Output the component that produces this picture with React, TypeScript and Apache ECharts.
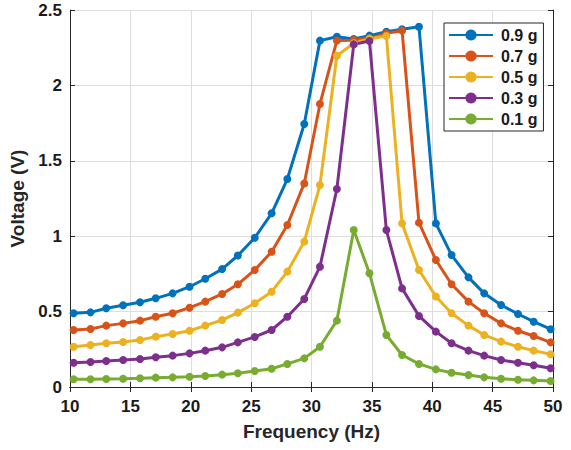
import React, { useEffect, useRef } from "react";
import * as echarts from "echarts";

const freq = [10.3, 11.7, 13.0, 14.4, 15.8, 17.1, 18.5, 19.9, 21.2, 22.6, 23.9, 25.3, 26.7, 28.0, 29.4, 30.7, 32.1, 33.5, 34.8, 36.2, 37.5, 38.9, 40.3, 41.6, 43.0, 44.3, 45.7, 47.1, 48.4, 49.8];

const g09 = [0.489, 0.495, 0.522, 0.542, 0.562, 0.588, 0.621, 0.665, 0.718, 0.782, 0.872, 0.99, 1.152, 1.379, 1.744, 2.297, 2.323, 2.308, 2.33, 2.356, 2.372, 2.389, 1.085, 0.875, 0.727, 0.621, 0.544, 0.484, 0.433, 0.383];
const g07 = [0.378, 0.385, 0.407, 0.422, 0.44, 0.466, 0.489, 0.526, 0.566, 0.617, 0.681, 0.776, 0.897, 1.074, 1.35, 1.877, 2.297, 2.3, 2.312, 2.345, 2.363, 1.09, 0.842, 0.681, 0.566, 0.489, 0.422, 0.373, 0.338, 0.296];
const g05 = [0.267, 0.279, 0.29, 0.298, 0.312, 0.334, 0.351, 0.373, 0.407, 0.444, 0.493, 0.555, 0.632, 0.765, 0.964, 1.339, 2.197, 2.28, 2.31, 2.328, 1.085, 0.776, 0.6, 0.489, 0.407, 0.345, 0.301, 0.267, 0.241, 0.217];
const g03 = [0.161, 0.166, 0.172, 0.179, 0.186, 0.197, 0.208, 0.223, 0.241, 0.263, 0.296, 0.332, 0.378, 0.466, 0.584, 0.798, 1.313, 2.272, 2.294, 1.041, 0.654, 0.471, 0.367, 0.29, 0.241, 0.208, 0.179, 0.161, 0.144, 0.124];
const g01 = [0.051, 0.051, 0.053, 0.055, 0.058, 0.062, 0.064, 0.068, 0.073, 0.082, 0.091, 0.106, 0.121, 0.153, 0.19, 0.267, 0.44, 1.041, 0.754, 0.345, 0.212, 0.153, 0.117, 0.095, 0.08, 0.064, 0.055, 0.048, 0.044, 0.04];

const seriesNames = ["0.9 g", "0.7 g", "0.5 g", "0.3 g", "0.1 g"];
const seriesValues = [g09, g07, g05, g03, g01];
const colors = ["#0072BD", "#D95319", "#EDB120", "#7E2F8E", "#77AC30"];

const xTicks = { min: 10, max: 50, interval: 5 };
const yTicks = { min: 0, max: 2.5, interval: 0.5 };

const FONT = "'Liberation Sans', Arial, sans-serif";

export default function App() {
  const ref = useRef<HTMLDivElement>(null);
  useEffect(() => {
    document.body.style.margin = "0";
    const chart = echarts.init(ref.current!, undefined, { renderer: "svg" });
    const axisLine = { show: true, lineStyle: { color: "#262626", width: 1 } };
    const tick = { show: true, inside: true, length: 5, lineStyle: { color: "#262626" } };
    const label = { color: "#1a1a1a", fontSize: 17, fontWeight: "bold" as const, fontFamily: FONT };
    const nameStyle = { color: "#262626", fontSize: 19, fontWeight: "bold" as const, fontFamily: FONT };
    chart.setOption({
      animation: false,
      backgroundColor: "#ffffff",
      grid: { left: 70, right: 18, top: 10, bottom: 63, containLabel: false },
      legend: {
        orient: "vertical",
        left: 444,
        top: 23,
        padding: [4, 6, 4, 4],
        itemWidth: 44,
        itemHeight: 14,
        itemGap: 5,
        backgroundColor: "#ffffff",
        borderColor: "#262626",
        borderWidth: 1,
        borderRadius: 0,
        textStyle: { color: "#1a1a1a", fontSize: 16, fontWeight: "bold", fontFamily: FONT, padding: [0, 0, 0, 3] },
        data: seriesNames,
      },
      xAxis: [
        {
          type: "value",
          min: xTicks.min,
          max: xTicks.max,
          interval: xTicks.interval,
          name: "Frequency (Hz)",
          nameLocation: "middle",
          nameGap: 35,
          nameTextStyle: nameStyle,
          axisLine,
          axisTick: tick,
          axisLabel: { ...label, margin: 11 },
          splitLine: { show: true, lineStyle: { color: "#dedede", width: 1 } },
        },
        {
          type: "value",
          position: "top",
          min: xTicks.min,
          max: xTicks.max,
          interval: xTicks.interval,
          axisLine,
          axisTick: tick,
          axisLabel: { show: false },
          splitLine: { show: false },
        },
      ],
      yAxis: [
        {
          type: "value",
          min: yTicks.min,
          max: yTicks.max,
          interval: yTicks.interval,
          name: "Voltage (V)",
          nameLocation: "middle",
          nameGap: 31,
          nameTextStyle: nameStyle,
          axisLine,
          axisTick: tick,
          axisLabel: { ...label, margin: 8, padding: [3, 0, 0, 0] },
          splitLine: { show: true, lineStyle: { color: "#dedede", width: 1 } },
        },
        {
          type: "value",
          position: "right",
          min: yTicks.min,
          max: yTicks.max,
          interval: yTicks.interval,
          axisLine,
          axisTick: tick,
          axisLabel: { show: false },
          splitLine: { show: false },
        },
      ],
      series: seriesNames.map((name, i) => ({
        name,
        type: "line",
        xAxisIndex: 0,
        yAxisIndex: 0,
        data: freq.map((f, j) => [f, seriesValues[i][j]]),
        symbol: "circle",
        symbolSize: 8,
        showSymbol: true,
        lineStyle: { color: colors[i], width: 3 },
        itemStyle: { color: colors[i] },
      })),
    });
    return () => chart.dispose();
  }, []);
  return <div ref={ref} style={{ width: 571, height: 450 }} />;
}
